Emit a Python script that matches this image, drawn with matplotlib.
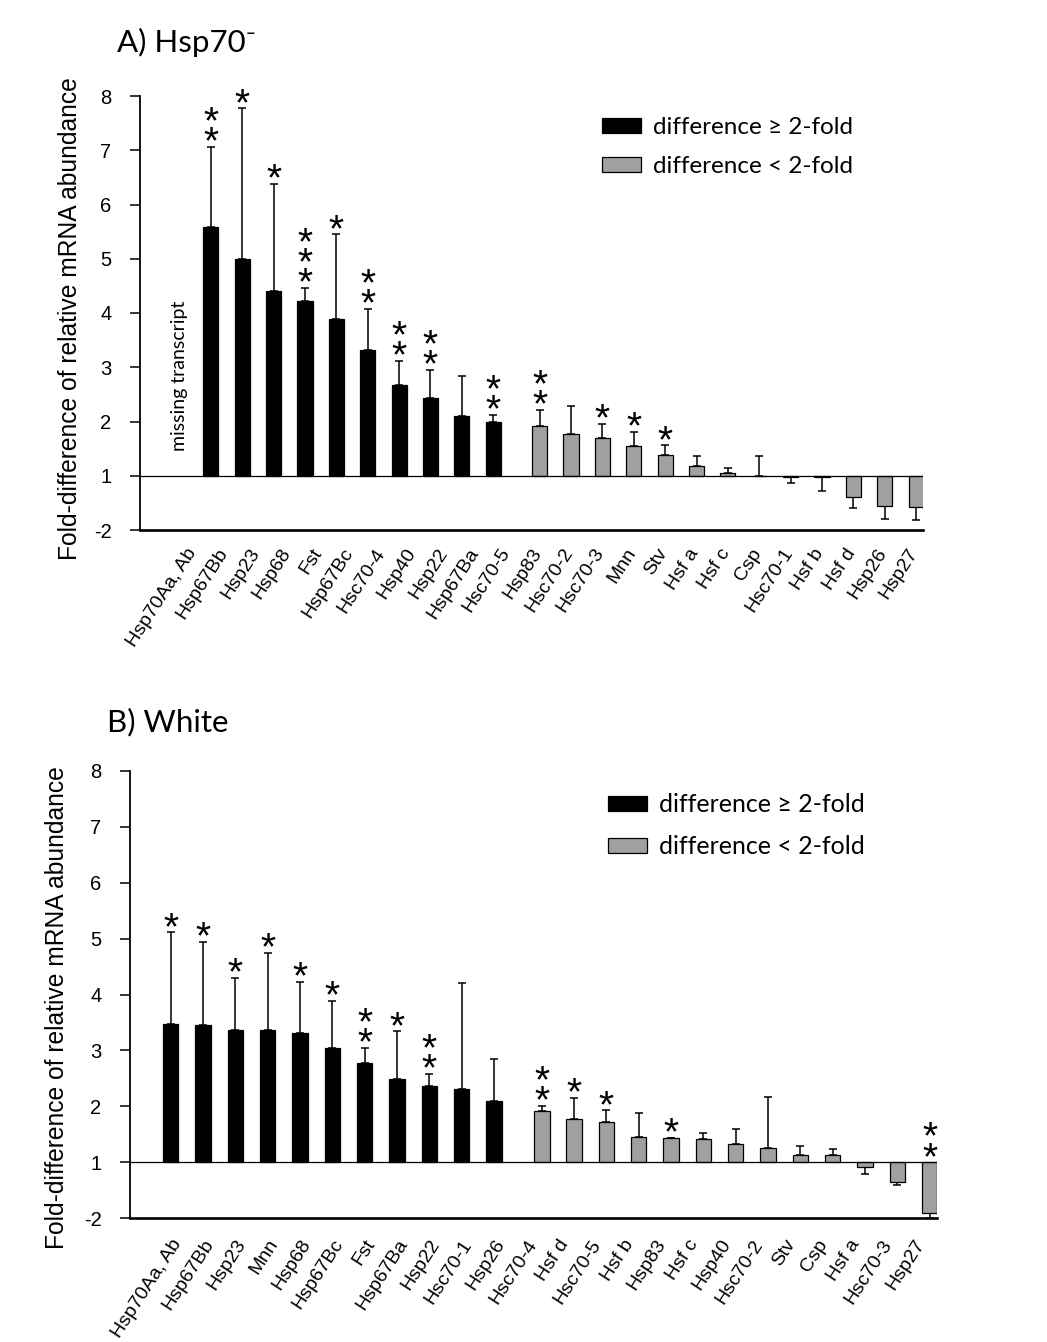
import numpy as np
import matplotlib
matplotlib.use("Agg")
import matplotlib.pyplot as plt
from matplotlib.patches import Patch

# ---------------------------------------------------------------- data
# Fold differences: values >= 1 are increases, negative values are decreases
# (-2 means a two-fold decrease). NaN = transcript not detected.
genes_a = ["Hsp70Aa, Ab", "Hsp67Bb", "Hsp23", "Hsp68", "Fst", "Hsp67Bc",
           "Hsc70-4", "Hsp40", "Hsp22", "Hsp67Ba", "Hsc70-5", "Hsp83",
           "Hsc70-2", "Hsc70-3", "Mnn", "Stv", "Hsf a", "Hsf c", "Csp",
           "Hsc70-1", "Hsf b", "Hsf d", "Hsp26", "Hsp27"]
fold_a = [np.nan, 5.59, 5.00, 4.41, 4.22, 3.89, 3.32, 2.68, 2.44, 2.11, 2.00,
          1.92, 1.77, 1.69, 1.54, 1.39, 1.18, 1.05, 1.00,
          -1.03, -1.03, -1.40, -1.55, -1.57]
err_a = [0.0, 1.47, 2.77, 1.97, 0.24, 1.56, 0.75, 0.44, 0.51, 0.72, 0.12,
         0.30, 0.51, 0.27, 0.27, 0.17, 0.19, 0.10, 0.36,
         0.10, 0.25, 0.19, 0.24, 0.24]
stars_a = [0, 2, 1, 1, 3, 1, 2, 2, 2, 0, 2, 2, 0, 1, 1, 1, 0, 0, 0, 0, 0, 0, 0, 0]

genes_b = ["Hsp70Aa, Ab", "Hsp67Bb", "Hsp23", "Mnn", "Hsp68", "Hsp67Bc", "Fst",
           "Hsp67Ba", "Hsp22", "Hsc70-1", "Hsp26", "Hsc70-4", "Hsf d",
           "Hsc70-5", "Hsf b", "Hsp83", "Hsf c", "Hsp40", "Hsc70-2", "Stv",
           "Csp", "Hsf a", "Hsc70-3", "Hsp27"]
fold_b = [3.47, 3.46, 3.37, 3.37, 3.32, 3.05, 2.77, 2.49, 2.37, 2.31, 2.09,
          1.91, 1.77, 1.72, 1.46, 1.43, 1.42, 1.32, 1.25, 1.13, 1.13,
          -1.08, -1.35, -1.91]
err_b = [1.64, 1.48, 0.93, 1.38, 0.90, 0.84, 0.27, 0.85, 0.21, 1.90, 0.76,
         0.10, 0.38, 0.21, 0.43, 0.01, 0.11, 0.28, 0.91, 0.16, 0.10,
         0.13, 0.055, 0.09]
stars_b = [1, 1, 1, 1, 1, 1, 2, 1, 2, 0, 0, 2, 1, 1, 0, 1, 0, 0, 0, 0, 0, 0, 0, 2]

ytick_labels = ["-2", "1", "2", "3", "4", "5", "6", "7", "8"]
legend_labels = ["difference \u2265 2-fold", "difference < 2-fold"]
ylabel = "Fold-difference of relative mRNA abundance"

# ---------------------------------------------------------------- style
W, H, DPI = 1047, 1342, 100
BLACK = "#000000"
GRAY = "#a0a0a0"
HALF = 0.24          # offset of each group's bar from the category centre
SANS = ["Liberation Sans", "DejaVu Sans"]
CAL = ["Lato", "DejaVu Sans"]


def to_axis(v):
    """Map fold values onto the plotting scale (1 = no change, -2 -> 0)."""
    v = np.asarray(v, float)
    return np.where(v >= 1, v, 2 + v)


def px(x, y):
    return x / W, 1 - y / H


fig = plt.figure(figsize=(W / DPI, H / DPI), dpi=DPI, facecolor="white")


def draw_panel(rect, genes, fold, err, stars, title, title_xy, ylabel_xy,
               legend_xy, legend_size, label_shift, label_pad, missing=None):
    ax = fig.add_axes(rect)
    fold = np.asarray(fold, float)
    err = np.asarray(err, float)
    x = np.arange(len(genes))
    pos = to_axis(fold)
    valid = ~np.isnan(pos)
    strong = np.abs(fold) >= 2
    xs = np.where(strong | ~valid, x - HALF, x + HALF)

    for mask, color in ((strong & valid, BLACK), (~strong & valid, GRAY)):
        ax.bar(xs[mask], pos[mask] - 1, bottom=1, width=2 * HALF,
               color=color, edgecolor="black", linewidth=0.9, zorder=3)

    up = np.where(pos >= 1, err, 0)
    down = np.where(pos < 1, err, 0)
    ax.errorbar(xs[valid], pos[valid], yerr=[down[valid], up[valid]],
                fmt="none", ecolor="black", elinewidth=1.1, capsize=2.6,
                capthick=1.1, zorder=2)

    # significance asterisks stacked above each bar (or above the baseline)
    for xi, p, e, n in zip(xs, pos, err, stars):
        if n == 0 or np.isnan(p):
            continue
        base = p + e if p >= 1 else 1.0
        ax.annotate("\n".join(["*"] * n), xy=(xi, base), xytext=(0, -10.5),
                    textcoords="offset points", ha="center", va="bottom",
                    linespacing=0.44, fontsize=28, family=SANS, zorder=5)

    ax.axhline(1, color="black", linewidth=0.9, zorder=4)

    if missing is not None:
        ax.text(missing - HALF, 1.45, "missing transcript", rotation=90,
                ha="center", va="bottom", fontsize=14, family=CAL)

    ax.set_xlim(-1.5, 23.46)
    ax.set_ylim(0, 8)
    for s in ("top", "right"):
        ax.spines[s].set_visible(False)
    ax.spines["left"].set_linewidth(1.3)
    ax.spines["bottom"].set_linewidth(1.9)

    ax.set_yticks(range(9))
    ax.set_yticklabels(ytick_labels, family=SANS, fontsize=14.5)
    ax.tick_params(axis="y", length=7, width=1.1, pad=13.5)

    ax.set_xticks(x + label_shift)
    ax.set_xticklabels(genes, rotation=57, ha="right", va="top",
                       rotation_mode="anchor", family=SANS, fontsize=14)
    ax.tick_params(axis="x", length=0, pad=label_pad)

    fx, fy = px(*ylabel_xy)
    fig.text(fx, fy, ylabel, rotation=90, ha="center", va="center",
             family=SANS, fontsize=17.7)

    tx, ty = px(*title_xy)
    fig.text(tx, ty, title, ha="left", va="baseline", family=CAL,
             fontsize=22.5)

    lx, ly = px(*legend_xy)
    fpx = legend_size * DPI / 72
    handles = [Patch(facecolor=BLACK, edgecolor="black", linewidth=0.9),
               Patch(facecolor=GRAY, edgecolor="black", linewidth=0.9)]
    ax.legend(handles, legend_labels, loc="upper left",
              bbox_to_anchor=(lx, ly), bbox_transform=fig.transFigure,
              frameon=False, prop={"family": CAL, "size": legend_size},
              handlelength=38.5 / fpx, handleheight=14 / fpx,
              handletextpad=12.5 / fpx, labelspacing=0.76,
              borderpad=0, borderaxespad=0)
    return ax


draw_panel([140 / W, 1 - 530 / H, 783 / W, 434 / H],
           genes_a, fold_a, err_a, stars_a,
           "A) Hsp70\u207b", (116.7, 51.7), (70, 319), (602, 117), 17.5,
           -0.04, 11, missing=0)

draw_panel([130 / W, 1 - 1218.3 / H, 806.7 / W, 447.6 / H],
           genes_b, fold_b, err_b, stars_b,
           "B) White", (106.7, 731.7), (57, 1008), (608, 793.5), 18,
           -0.25, 13)

fig.savefig("out.png", dpi=DPI, facecolor="white")
